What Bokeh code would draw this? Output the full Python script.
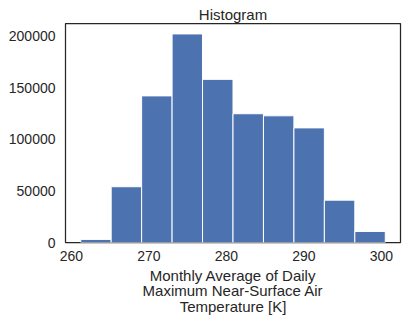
import numpy as np
from bokeh.plotting import figure
from bokeh.models import Range1d, FixedTicker, BasicTickFormatter
from bokeh.embed import file_html
from bokeh.resources import INLINE

# Histogram data (10 bins)
t_min = 261.2
t_max = 300.5
counts = [3000, 54000, 142000, 202000, 158000, 124700, 122700, 111000, 41000, 10700]
x_ticks = [260, 270, 280, 290, 300]
y_ticks = [0, 50000, 100000, 150000, 200000]

edges = np.linspace(t_min, t_max, len(counts) + 1)
span = t_max - t_min

FONT = "Liberation Sans"
TXT = "#262626"

p = figure(width=406, height=322, output_backend="svg", toolbar_location=None,
           title="Histogram",
           x_range=Range1d(t_min - 0.05 * span, t_max + 0.05 * span),
           y_range=Range1d(0, max(counts) * 1.05),
           min_border_left=65, min_border_right=6, min_border_top=23, min_border_bottom=80)

p.quad(left=edges[:-1], right=edges[1:], bottom=0, top=counts,
       fill_color="#4C72B0", line_color="white", line_width=1)

p.title.text_font = FONT
p.title.text_font_size = "15px"
p.title.text_font_style = "normal"
p.title.text_color = TXT
p.title.align = "center"
p.title.standoff = 2

p.grid.visible = False
p.outline_line_color = TXT
p.outline_line_width = 1.25
p.outline_line_alpha = 1
p.background_fill_color = "white"
p.border_fill_color = "white"

for ax in (p.xaxis, p.yaxis):
    ax.axis_line_color = None
    ax.major_tick_line_color = None
    ax.minor_tick_line_color = None
    ax.major_tick_out = 0
    ax.major_tick_in = 0
    ax.major_label_text_font = FONT
    ax.major_label_text_font_size = "14px"
    ax.major_label_text_color = TXT

p.xaxis.ticker = FixedTicker(ticks=x_ticks)
p.yaxis.ticker = FixedTicker(ticks=y_ticks)
p.yaxis.formatter = BasicTickFormatter(use_scientific=False)
p.yaxis.major_label_standoff = 10
p.xaxis.major_label_standoff = 8

p.xaxis.axis_label = "Monthly Average of Daily\nMaximum Near-Surface Air\nTemperature [K]"
p.xaxis.axis_label_text_font = FONT
p.xaxis.axis_label_text_font_size = "15px"
p.xaxis.axis_label_text_font_style = "normal"
p.xaxis.axis_label_text_color = TXT
p.xaxis.axis_label_text_line_height = 0.92
p.xaxis.axis_label_standoff = 3

open("out.html", "w").write(file_html(p, INLINE))
